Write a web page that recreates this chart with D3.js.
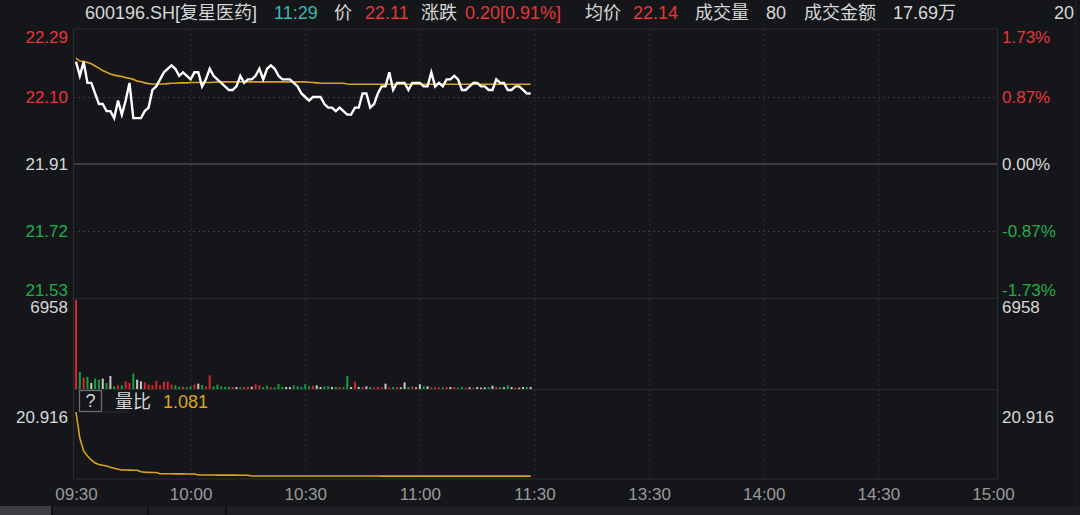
<!DOCTYPE html>
<html><head><meta charset="utf-8">
<script src="https://cdn.jsdelivr.net/npm/d3@7"></script>
<style>
html,body{margin:0;padding:0;background:#141619;}
svg{display:block;}
text{font-family:"Liberation Sans","Noto Sans CJK SC",Arial,sans-serif;}
</style></head><body>
<svg id="chart" width="1080" height="515"></svg>
<script>
// ---------- data ----------
const prevClose = 21.91;
const priceTicks = [22.29, 22.10, 21.91, 21.72, 21.53];
const pctTicks = ["1.73%", "0.87%", "0.00%", "-0.87%", "-1.73%"];
const timeLabels = ["09:30", "10:00", "10:30", "11:00", "11:30", "13:30", "14:00", "14:30", "15:00"];
const timeIdx = [0, 30, 60, 90, 120, 150, 180, 210, 240];
const volMax = 6958;
const ratioMax = 20.916;
const ratioLast = "1.081";

const price = [
22.20,22.16,22.20,22.14,22.14,22.11,22.08,22.08,22.06,22.06,
22.04,22.09,22.05,22.09,22.14,22.04,22.04,22.04,22.06,22.07,
22.12,22.13,22.15,22.17,22.18,22.19,22.18,22.16,22.17,22.16,
22.15,22.17,22.17,22.13,22.15,22.18,22.16,22.15,22.14,22.13,
22.12,22.12,22.13,22.16,22.14,22.15,22.15,22.16,22.18,22.15,
22.18,22.19,22.18,22.16,22.15,22.15,22.15,22.14,22.13,22.11,
22.10,22.09,22.10,22.10,22.10,22.08,22.07,22.07,22.06,22.07,
22.06,22.05,22.05,22.07,22.07,22.11,22.11,22.07,22.08,22.11,
22.13,22.13,22.17,22.12,22.14,22.14,22.14,22.12,22.14,22.14,
22.14,22.13,22.13,22.17,22.13,22.14,22.13,22.15,22.15,22.16,
22.15,22.12,22.12,22.13,22.14,22.14,22.13,22.13,22.12,22.12,
22.15,22.14,22.14,22.12,22.12,22.13,22.13,22.12,22.11,22.11];

const avgPrice = [
22.210,22.202,22.201,22.198,22.194,22.188,22.182,22.175,22.170,22.165,
22.162,22.160,22.158,22.155,22.153,22.150,22.145,22.143,22.140,22.138,
22.137,22.136,22.137,22.137,22.138,22.139,22.139,22.140,22.140,22.140,
22.141,22.141,22.141,22.141,22.141,22.141,22.142,22.143,22.143,22.143,
22.143,22.143,22.143,22.143,22.143,22.143,22.143,22.143,22.143,22.143,
22.143,22.143,22.143,22.143,22.143,22.143,22.143,22.143,22.143,22.143,
22.143,22.142,22.141,22.140,22.139,22.139,22.139,22.139,22.139,22.139,
22.139,22.137,22.136,22.136,22.136,22.136,22.136,22.136,22.136,22.136,
22.136,22.136,22.136,22.136,22.136,22.136,22.136,22.136,22.136,22.136,
22.136,22.136,22.136,22.136,22.136,22.136,22.136,22.136,22.136,22.136,
22.136,22.136,22.136,22.136,22.136,22.136,22.136,22.136,22.136,22.136,
22.136,22.136,22.136,22.136,22.136,22.136,22.136,22.136,22.136,22.136];

const volume = [
6958,1330,885,940,470,810,730,810,470,1020,
210,290,290,600,470,1200,730,600,520,340,
310,625,290,575,575,340,290,180,180,130,
210,340,420,310,210,1070,210,340,210,180,
180,160,160,130,160,180,180,365,290,160,
260,160,130,390,160,160,160,287,209,156,
365,209,260,287,156,209,209,156,156,156,
130,1020,156,575,156,156,209,156,104,156,
156,417,130,156,156,130,520,156,209,130,
365,209,209,130,130,130,130,156,156,156,
104,156,104,130,104,156,104,130,156,260,
156,156,130,287,156,104,104,156,156,156];

// 1 = up (red), -1 = down (green), 0 = flat (white)
const volDir = [
1,-1,1,-1,0,-1,-1,0,-1,0,
-1,1,-1,1,1,-1,0,0,1,1,
1,1,1,1,1,1,-1,-1,1,-1,
-1,1,0,-1,1,1,-1,-1,-1,-1,
-1,1,0,-1,1,1,0,1,1,-1,
-1,1,-1,-1,-1,0,0,-1,-1,-1,
-1,-1,1,0,0,-1,-1,0,-1,1,
-1,-1,0,1,0,1,0,-1,1,1,
1,0,1,-1,1,0,0,-1,1,0,
0,-1,0,1,1,1,-1,1,0,1,
-1,-1,1,0,1,0,0,0,-1,0,
1,-1,0,-1,0,1,0,0,-1,0];

const volRatio = [
20.916,12.87,8.85,7.31,6.07,5.14,4.68,4.43,4.21,3.81,
3.50,3.19,2.98,2.97,2.95,2.92,2.90,2.45,2.27,2.25,
2.22,2.20,1.83,1.82,1.81,1.80,1.79,1.78,1.77,1.76,
1.76,1.75,1.43,1.42,1.42,1.41,1.41,1.40,1.40,1.39,
1.39,1.38,1.38,1.37,1.36,1.35,1.14,1.14,1.13,1.13,
1.13,1.13,1.12,1.12,1.12,1.12,1.12,1.11,1.11,1.11,
1.11,1.11,1.11,1.11,1.10,1.10,1.10,1.10,1.10,1.10,
1.10,1.10,1.10,1.10,1.10,1.10,1.10,1.10,1.10,1.10,
1.09,1.09,1.09,1.09,1.09,1.09,1.09,1.09,1.09,1.09,
1.09,1.09,1.09,1.09,1.09,1.09,1.09,1.09,1.09,1.09,
1.09,1.09,1.09,1.09,1.09,1.09,1.09,1.08,1.08,1.08,
1.08,1.08,1.08,1.08,1.08,1.08,1.081,1.081,1.081,1.081];

const headerTexts = ["600196.SH[复星医药]", "11:29", "价", "22.11", "涨跌", "0.20[0.91%]", "均价", "22.14", "成交量", "80", "成交金额", "17.69万", "20"];

// ---------- layout / style ----------
const C = {
  bg: "#141619", border: "#2a2c31", grid: "#3a3c41",
  red: "#e8353b", green: "#1fae4b", txt: "#d8d8d8", tick: "#9a9a9a",
  yellow: "#dca41c", teal: "#38b6b0",
  vRed: "#d9262e", vGreen: "#13a042", vWhite: "#c9c9c9"
};
const headerX = [85, 274, 334, 365, 421, 465, 585, 633, 695, 766, 804, 893, 1054];
const headerCol = [C.txt, C.teal, C.txt, C.red, C.txt, C.red, C.txt, C.red, C.txt, C.txt, C.txt, C.txt, C.txt];

const L = 73, R = 997, TOP = 29, PB = 298.5, VB = 389.5, AX = 479;
const FS = 17;

const svg = d3.select("#chart");
svg.append("rect").attr("width", 1080).attr("height", 515).attr("fill", C.bg);

const x = d3.scaleLinear().domain([0, 240]).range([76, 993]);
const yP = d3.scaleLinear().domain([21.53, 22.29]).range([298, 30]);
const yV = d3.scaleLinear().domain([0, volMax]).range([389, 300]);
const yR = d3.scaleLinear().domain([0.5, ratioMax]).range([478, 412]);

// right strip line
svg.append("line").attr("x1", 1076).attr("x2", 1076).attr("y1", 0).attr("y2", 506)
  .attr("stroke", "#202227").attr("stroke-width", 1);
// bottom tab bar
svg.append("rect").attr("x", 0).attr("y", 506).attr("width", 1080).attr("height", 9).attr("fill", "#1d1f23");
svg.append("rect").attr("x", 0).attr("y", 506).attr("width", 51).attr("height", 9).attr("fill", "#3b3d43");
[52, 148, 226].forEach(d => svg.append("line").attr("x1", d).attr("x2", d).attr("y1", 506).attr("y2", 515)
  .attr("stroke", "#0c0d0f").attr("stroke-width", 1.5));

// vertical dotted grid
svg.append("g").selectAll("line").data(timeIdx.slice(1, -1)).join("line")
  .attr("x1", d => x(d) + 0.5).attr("x2", d => x(d) + 0.5).attr("y1", TOP).attr("y2", AX)
  .attr("stroke", "#2e3035").attr("stroke-dasharray", "2,3");

// horizontal dotted grid
svg.append("g").selectAll("line").data([priceTicks[1], priceTicks[3]]).join("line")
  .attr("x1", L).attr("x2", R).attr("y1", d => Math.round(yP(d)) + 0.5).attr("y2", d => Math.round(yP(d)) + 0.5)
  .attr("stroke", C.grid).attr("stroke-dasharray", "2,3");
// prev close line
svg.append("line").attr("x1", L).attr("x2", R).attr("y1", yP(prevClose)).attr("y2", yP(prevClose))
  .attr("stroke", "#3a3c41").attr("stroke-width", 2);

// borders
[TOP, PB, VB, AX].forEach(yy => svg.append("line").attr("x1", L).attr("x2", R).attr("y1", yy).attr("y2", yy)
  .attr("stroke", C.border).attr("stroke-width", 1.2));
[L, R].forEach(xx => svg.append("line").attr("x1", xx + 0.5).attr("x2", xx + 0.5).attr("y1", TOP).attr("y2", AX)
  .attr("stroke", C.border).attr("stroke-width", 1.2));

// price axis labels
const pColor = (d) => d > prevClose + 1e-9 ? C.red : (d < prevClose - 1e-9 ? C.green : C.txt);
const labY = (d, i) => i === 0 ? yP(d) + 7 : (i === priceTicks.length - 1 ? yP(d) - 8 : yP(d));
svg.append("g").selectAll("text").data(priceTicks).join("text")
  .attr("x", 68).attr("y", labY).attr("dy", "0.36em").attr("text-anchor", "end")
  .attr("font-size", FS).attr("fill", pColor).text(d => d.toFixed(2));
svg.append("g").selectAll("text").data(priceTicks).join("text")
  .attr("x", 1002).attr("y", labY).attr("dy", "0.36em").attr("text-anchor", "start")
  .attr("font-size", FS).attr("fill", pColor).text((d, i) => pctTicks[i]);

// volume labels
svg.append("text").attr("x", 68).attr("y", yV(volMax) + 7).attr("dy", "0.36em").attr("text-anchor", "end")
  .attr("font-size", FS).attr("fill", C.txt).text(volMax);
svg.append("text").attr("x", 1002).attr("y", yV(volMax) + 7).attr("dy", "0.36em")
  .attr("font-size", FS).attr("fill", C.txt).text(volMax);

// ratio labels
svg.append("text").attr("x", 68).attr("y", yR(ratioMax) + 5).attr("dy", "0.36em").attr("text-anchor", "end")
  .attr("font-size", FS).attr("fill", C.txt).text(ratioMax.toFixed(3));
svg.append("text").attr("x", 1002).attr("y", yR(ratioMax) + 5).attr("dy", "0.36em")
  .attr("font-size", FS).attr("fill", C.txt).text(ratioMax.toFixed(3));

// volume bars
svg.append("g").selectAll("rect").data(volume).join("rect")
  .attr("x", (d, i) => x(i) - 1).attr("width", 2)
  .attr("y", d => yV(d)).attr("height", d => yV(0) - yV(d))
  .attr("fill", (d, i) => volDir[i] > 0 ? C.vRed : (volDir[i] < 0 ? C.vGreen : C.vWhite));

// average price line
svg.append("path").datum(avgPrice)
  .attr("d", d3.line().x((d, i) => x(i)).y(d => yP(d)))
  .attr("fill", "none").attr("stroke", C.yellow).attr("stroke-width", 1.6);
// price line
svg.append("path").datum(price)
  .attr("d", d3.line().x((d, i) => x(i)).y(d => yP(d)))
  .attr("fill", "none").attr("stroke", "#ffffff").attr("stroke-width", 2.4).attr("stroke-linejoin", "miter");

// volume ratio line
svg.append("path").datum(volRatio)
  .attr("d", d3.line().x((d, i) => x(i)).y(d => yR(d)))
  .attr("fill", "none").attr("stroke", C.yellow).attr("stroke-width", 1.6);

// ratio legend
svg.append("rect").attr("x", 79.5).attr("y", 390.5).attr("width", 22).attr("height", 21)
  .attr("fill", "none").attr("stroke", "#6c6e73").attr("stroke-width", 1.3);
svg.append("line").attr("x1", 101).attr("x2", 127).attr("y1", 412).attr("y2", 412).attr("stroke", "#2e3035");
svg.append("text").attr("x", 90.5).attr("y", 401).attr("dy", "0.36em").attr("text-anchor", "middle")
  .attr("font-size", 18).attr("fill", C.txt).text("?");
svg.append("text").attr("x", 115).attr("y", 402).attr("dy", "0.36em")
  .attr("font-size", 18).attr("fill", C.txt).text("量比");
svg.append("text").attr("x", 163).attr("y", 402).attr("dy", "0.36em")
  .attr("font-size", 18).attr("fill", C.yellow).text(ratioLast);

// time axis
const xAxis = d3.axisBottom(x).tickValues(timeIdx).tickSize(0).tickPadding(9)
  .tickFormat((d, i) => timeLabels[i]);
const gx = svg.append("g").attr("transform", `translate(0,${AX})`).call(xAxis);
gx.select(".domain").remove();
gx.selectAll("text").attr("font-size", FS).attr("fill", C.tick)
  .attr("font-family", '"Liberation Sans","Noto Sans CJK SC",Arial,sans-serif');

// header
svg.append("g").selectAll("text").data(headerTexts).join("text")
  .attr("x", (d, i) => headerX[i]).attr("y", 13).attr("dy", "0.36em")
  .attr("font-size", 18).attr("fill", (d, i) => headerCol[i]).text(d => d);
</script>
</body></html>
